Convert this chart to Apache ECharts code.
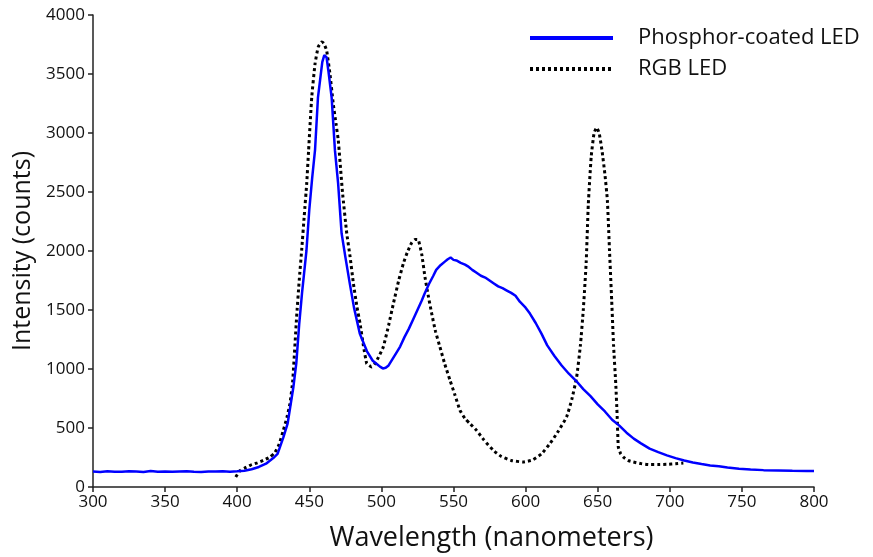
<!DOCTYPE html>
<html>
<head>
<meta charset="utf-8">
<script src="https://cdn.jsdelivr.net/npm/echarts@6/dist/echarts.min.js"></script>
<style>
html,body{margin:0;padding:0;background:#fff;}
#chart{width:873px;height:557px;}
</style>
</head>
<body>
<div id="chart"></div>
<script>
const phosphorWl = [300,305,310,315,320,325,330,335,340,345,350,355,360,365,370,375,380,385,390,395,400,405,410,415,420,425,428,432,435,439,441,443,445,448,450,452,454,456,457.5,459,460.4,462,463.2,465.5,467.8,470,472.4,475,478,481,485,490,494,497,499,501,503,505,508,511,513,516,519,522,525,528,530,533,536,538,541,544,546,548,550,552,555,558,560,563,566,569,572,575,578,581,584,587,590,593,596,600,603,607,611,615,620,625,630,635,640,645,650,655,660,665,670,675,680,686,692,698,704,710,716,722,728,734,740,748,756,765,775,785,795,800];
const phosphorInt = [132,128,133,130,129,134,131,128,135,130,132,129,131,133,130,128,132,131,134,130,133,138,150,170,198,245,280,420,540,850,1050,1380,1650,2000,2350,2620,2860,3300,3450,3600,3660,3640,3530,3300,2850,2570,2150,1950,1730,1520,1300,1150,1070,1040,1020,1005,1010,1030,1090,1150,1190,1270,1340,1420,1500,1580,1640,1720,1790,1840,1880,1910,1930,1945,1925,1920,1900,1885,1870,1840,1815,1790,1775,1750,1725,1700,1685,1665,1645,1620,1570,1520,1470,1390,1300,1200,1110,1030,960,900,830,770,700,640,570,520,460,410,370,325,295,268,245,225,208,195,183,175,165,155,148,143,140,137,135,135];

const rgbWl = [399,402,405,409,414,418,422.7,426,429,432,434.5,436.6,438.5,441.2,443,444.7,446.5,448.2,449.5,451.7,454,456.2,458.6,460,462,464.3,466.6,468.5,470.1,473,476,478.3,480.6,483,485.2,487.5,489.8,491.5,493.3,495.6,498,501.3,505,508.3,512,515.2,518,521,523.3,525.5,528,530.2,532.5,534.9,537.5,540.6,544,547.6,551,554.5,558,561.4,566,571,577.6,583,590,598.3,605,611,616.9,622,628.4,632,635.4,638,640,642,643.5,645.5,647.5,649.3,651,653,655,656.7,658.2,659.7,661,662.5,663.5,664.3,666,667.8,671,674.7,680,686.3,692,697.9,704,709.4];
const rgbInt = [85,140,160,184,205,225,254,290,360,480,590,707,900,1440,1750,2006,2300,2571,2850,3305,3588,3729,3771,3760,3700,3503,3249,3080,2938,2500,2147,1950,1724,1530,1385,1200,1046,1030,1017,1046,1100,1186,1370,1554,1750,1893,1990,2070,2097,2095,1970,1780,1620,1469,1320,1186,1040,904,780,650,580,537,480,400,311,260,225,212,230,280,368,460,593,740,932,1200,1500,1900,2400,2800,3000,3046,3000,2850,2650,2430,2000,1582,1200,880,600,339,280,254,225,212,198,190,190,192,197,203];

const xTicks = {min:300,max:800,interval:50};
const yTicks = {min:0,max:4000,interval:500};

const zip = (a,b) => a.map((v,i)=>[v,b[i]]);
const font = "'Open Sans', 'DejaVu Sans', sans-serif";

const chart = echarts.init(document.getElementById('chart'), null, {renderer:'canvas'});
chart.setOption({
  animation:false,
  backgroundColor:'#fff',
  grid:{left:93,right:59,top:15,bottom:70,containLabel:false},
  legend:{
    orient:'vertical',
    left:523, top:22,
    itemWidth:83, itemHeight:14, itemGap:9,
    itemStyle:{opacity:0},
    lineStyle:{width:4},
    textStyle:{fontFamily:font,fontSize:22,color:'#111',padding:[0,0,0,20]},
    data:['Phosphor-coated LED','RGB LED']
  },
  xAxis:{
    type:'value', min:xTicks.min, max:xTicks.max, interval:xTicks.interval,
    name:'Wavelength (nanometers)', nameLocation:'middle', nameGap:38,
    nameTextStyle:{fontFamily:font,fontSize:27,color:'#111',padding:[0,0,0,76]},
    axisLine:{show:true,lineStyle:{color:'#222',width:1.5}},
    axisTick:{show:true,inside:false,length:5,lineStyle:{color:'#222',width:1.5}},
    axisLabel:{fontFamily:font,fontSize:17,color:'#111',margin:7},
    splitLine:{show:false}
  },
  yAxis:{
    type:'value', min:yTicks.min, max:yTicks.max, interval:yTicks.interval,
    name:'Intensity (counts)', nameLocation:'middle', nameGap:42,
    nameTextStyle:{fontFamily:font,fontSize:25,color:'#111'},
    axisLine:{show:true,lineStyle:{color:'#222',width:1.5}},
    axisTick:{show:true,inside:false,length:5,lineStyle:{color:'#222',width:1.5}},
    axisLabel:{fontFamily:font,fontSize:17,color:'#111',margin:8,formatter:v=>String(v)},
    splitLine:{show:false}
  },
  series:[
    {
      name:'Phosphor-coated LED', type:'line', data:zip(phosphorWl,phosphorInt),
      showSymbol:false, symbol:'none',
      lineStyle:{color:'#0000ff',width:2.5},
      itemStyle:{color:'#0000ff'}, z:3
    },
    {
      name:'RGB LED', type:'line', data:zip(rgbWl,rgbInt),
      showSymbol:false, symbol:'none', smooth:0.15,
      lineStyle:{color:'#000',width:3,type:[3,3],cap:'butt'},
      itemStyle:{color:'#000'}, z:2
    }
  ]
});
</script>
</body>
</html>
